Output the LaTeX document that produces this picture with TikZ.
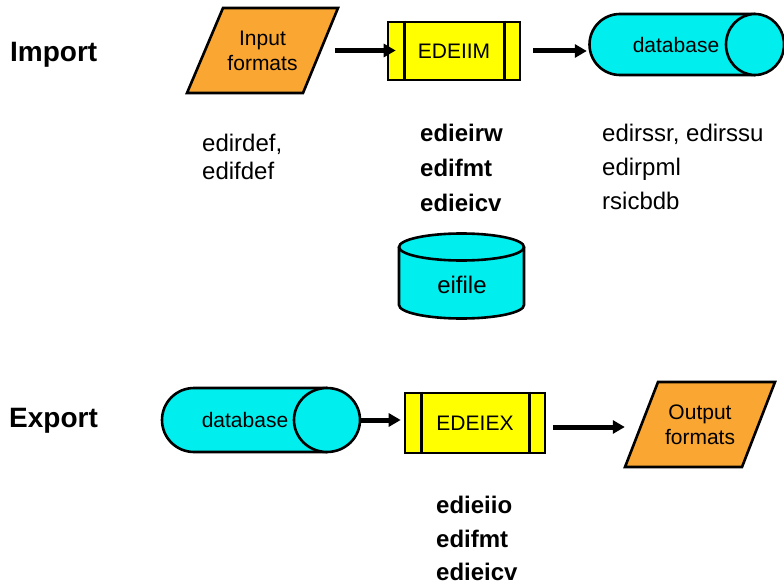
\documentclass[tikz,border=0pt]{standalone}
\usepackage{fontspec}
\setmainfont{Liberation Sans}
\usetikzlibrary{arrows.meta}
\definecolor{orangef}{RGB}{250,166,50}
\definecolor{cyanf}{RGB}{0,238,238}
\definecolor{yellowf}{RGB}{255,255,0}
\begin{document}
\begin{tikzpicture}[x=1pt,y=-1pt,
 shapeline/.style={draw=black,line width=2.6pt,line join=miter},
 para/.style={shapeline,fill=orangef},
 cyl/.style={shapeline,fill=cyanf},
 proc/.style={shapeline,fill=yellowf,inner sep=0,font=\fontsize{21}{25}\selectfont},
 arr/.style={line width=5pt,-{Triangle[length=12pt,width=13pt]}},
 box/.style={inner sep=0,draw=none},
 title/.style={font=\bfseries\fontsize{28}{32}\selectfont,anchor=base west,inner sep=0},
 reg/.style={font=\fontsize{24}{28}\selectfont,anchor=base west,inner sep=0},
 bld/.style={font=\bfseries\fontsize{24}{28}\selectfont,anchor=base west,inner sep=0},
 shtxt/.style={font=\fontsize{21}{25}\selectfont,align=center,inner sep=0},
]
\useasboundingbox (0,0) rectangle (784,586);
\fill[white] (0,0) rectangle (784,586);

% ---------- Import ----------
\node[title] (imp) at (10,62) {Import};

\draw[para] (187,93) -- (303,93) -- (338,8) -- (223,8) -- cycle;
\node[box,shtxt,minimum width=151pt,minimum height=85pt] (in) at (262.5,50.5) {Input\\formats};

\node[proc,minimum width=132pt,minimum height=58pt] (m1) at (454,51) {EDEIIM};
\draw[shapeline] ([xshift=18pt]m1.north west) -- ([xshift=18pt]m1.south west);
\draw[shapeline] ([xshift=-17pt]m1.north east) -- ([xshift=-17pt]m1.south east);

\draw[cyl] (755,14) -- (620,14) arc[start angle=270,end angle=90,radius=30.5] -- (755,75);
\draw[cyl] (755,44.5) ellipse[x radius=29,y radius=30.5];
\node[box,minimum width=194pt,minimum height=61pt] (db1) at (687,44.5) {};
\node[shtxt] (db1t) at (676,45) {database};

\draw[arr,shorten <=-3pt,shorten >=-9pt] (in.east) -- (in.east -| m1.west);
\draw[arr,shorten <=12pt,shorten >=3pt] (m1.east) -- (m1.east -| db1.west);

\node[reg] (l1) at (202,151) {edirdef,};
\node[reg] (l2) at (202,179) {edifdef};
\node[bld] (b1) at (420,141) {edieirw};
\node[bld] (b2) at (420,176) {edifmt};
\node[bld] (b3) at (420,211) {edieicv};
\node[reg] (r1) at (602,141) {edirssr, edirssu};
\node[reg] (r2) at (602,175) {edirpml};
\node[reg] (r3) at (602,209) {rsicbdb};

\draw[cyl] (399,247) -- (399,305) arc[start angle=180,end angle=0,x radius=62.5,y radius=13.5] -- (524,247);
\draw[cyl] (461.5,247) ellipse[x radius=62.5,y radius=13.5];
\node[box,font=\fontsize{24}{28}\selectfont] (ei) at (462,285) {eifile};

% ---------- Export ----------
\node[title] (exp) at (9,427) {Export};

\draw[cyl] (327,388) -- (194,388) arc[start angle=270,end angle=90,radius=32] -- (327,452);
\draw[cyl] (327,420) ellipse[x radius=33,y radius=32];
\node[box,minimum width=198pt,minimum height=64pt] (db2) at (261,420) {};
\node[shtxt] (db2t) at (245,420) {database};

\node[proc,minimum width=140pt,minimum height=60pt] (m2) at (475,423) {EDEIEX};
\draw[shapeline] ([xshift=18pt]m2.north west) -- ([xshift=18pt]m2.south west);
\draw[shapeline] ([xshift=-17pt]m2.north east) -- ([xshift=-17pt]m2.south east);

\draw[para] (625,467) -- (742,467) -- (775,382) -- (658,382) -- cycle;
\node[box,shtxt,minimum width=150pt,minimum height=85pt] (out) at (700,424.5) {Output\\formats};

\draw[arr,shorten >=3pt] (db2.east) -- (db2.east -| m2.west);
\draw[arr,shorten <=7pt] ([yshift=-4pt]m2.east) -- ([yshift=-4pt]m2.east -| out.west);

\node[bld] (e1) at (436,513) {edieiio};
\node[bld] (e2) at (436,547) {edifmt};
\node[bld] (e3) at (436,580) {edieicv};
\end{tikzpicture}
\end{document}
